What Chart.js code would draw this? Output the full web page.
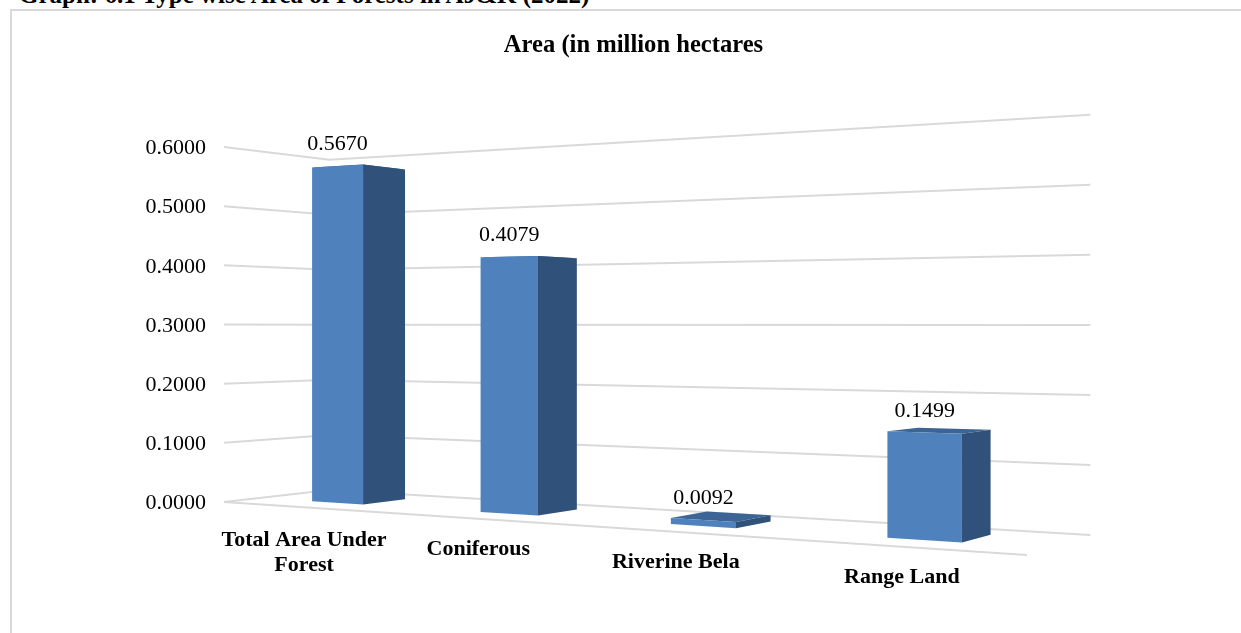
<!DOCTYPE html>
<html>
<head>
<meta charset="utf-8">
<style>
html,body{margin:0;padding:0;background:#fff;overflow:hidden;width:1241px;height:633px}
#frame{position:absolute;left:10px;top:9px;width:1240px;height:640px;border:2px solid #d9d9d9;box-sizing:border-box}
#caption{position:absolute;left:19px;top:-19px;font:bold 25px/28px "Liberation Serif",serif;color:#000;white-space:nowrap}
#wrap{position:absolute;left:0;top:0;width:1241px;height:633px}
</style>
</head>
<body>
<div id="frame"></div>
<div id="caption">Graph: 6.1 Type wise Area of Forests in AJ&amp;K (2022)</div>
<div id="wrap"><canvas id="c" width="1241" height="633"></canvas></div>
<script src="https://cdn.jsdelivr.net/npm/chart.js@4"></script>
<script>
const chartTitle = "Area (in million hectares";
const categories = [["Total Area Under","Forest"],["Coniferous"],["Riverine Bela"],["Range Land"]];
const areaValues = [0.5670,0.4079,0.0092,0.1499];
const tickStep = 0.1;
const axisMax = 0.6;

const serif = '"Liberation Serif", serif';
// Oblique projection of the chart's own plane: w = 1 + P*u + Q*z
const P = -0.0575, Q = 0.0745, BX = 130, AY = -18.66, BY = 24.5, Y_OFF = -1.5;
const Z_FRONT = 0.325, Z_BACK = 0.74, BAR_SHIFT = -0.008;

const perspective3d = {
  id: 'perspective3d',
  beforeDatasetsDraw(chart){
    const {ctx, scales:{x,y}} = chart;
    const catW = x.width / categories.length;
    const proj = (px, py, z) => {
      const u = (px - x.left) / catW;
      const w = 1 + P*u + Q*z;
      return [(px + BX*z)/w, (py + Y_OFF + AY*u + BY*z)/w];
    };
    const line = pts => { ctx.beginPath(); pts.forEach((p,i)=> i?ctx.lineTo(p[0],p[1]):ctx.moveTo(p[0],p[1])); ctx.stroke(); };
    const quad = (pts,col) => { ctx.fillStyle=col; ctx.beginPath(); pts.forEach((p,i)=> i?ctx.lineTo(p[0],p[1]):ctx.moveTo(p[0],p[1])); ctx.closePath(); ctx.fill(); };

    ctx.save();
    ctx.strokeStyle = '#d9d9d9'; ctx.lineWidth = 2;
    y.ticks.forEach(t => {
      const py = y.getPixelForValue(t.value);
      line([proj(x.left,py,0), proj(x.left,py,1), proj(x.right,py,1)]);
    });
    const py0 = y.getPixelForValue(0);
    line([proj(x.left,py0,0), proj(x.right,py0,0)]);

    const meta = chart.getDatasetMeta(0);
    meta.data.forEach((el,i) => {
      const shift = BAR_SHIFT*catW;
      const l = el.x - el.width/2 + shift, r = el.x + el.width/2 + shift;
      const t = el.y, b = el.base;
      const top = [proj(l,t,Z_FRONT),proj(r,t,Z_FRONT),proj(r,t,Z_BACK),proj(l,t,Z_BACK)];
      const side = [proj(r,t,Z_FRONT),proj(r,t,Z_BACK),proj(r,b,Z_BACK),proj(r,b,Z_FRONT)];
      const front = [proj(l,t,Z_FRONT),proj(r,t,Z_FRONT),proj(r,b,Z_FRONT),proj(l,b,Z_FRONT)];
      quad(top,'#3c6595');
      quad(side,'#30527a');
      quad(front,'#4f81bd');

      // value label above the front top edge
      ctx.fillStyle='#000'; ctx.font='22px '+serif; ctx.textAlign='center'; ctx.textBaseline='alphabetic';
      const cx=(front[0][0]+front[1][0])/2, cy=(front[0][1]+front[1][1])/2;
      ctx.fillText(areaValues[i].toFixed(4), cx, cy-15.5);

      // category label under the floor's front edge
      const f = proj(el.x, py0, 0);
      ctx.font='bold 22px '+serif;
      categories[i].forEach((s,k)=> ctx.fillText(s, f[0]+0.5, f[1]+(categories[i].length>1?38.7:36.3)+k*25));
    });
    ctx.restore();
  }
};

new Chart(document.getElementById('c'), {
  type:'bar',
  data:{
    labels:categories,
    datasets:[{label:'Area',data:areaValues,backgroundColor:'rgba(0,0,0,0)',borderWidth:0,barPercentage:0.315,categoryPercentage:1}]
  },
  plugins:[perspective3d],
  options:{
    responsive:false,animation:false,
    layout:{padding:{left:26,right:0,top:0,bottom:129.5}},
    plugins:{
      legend:{display:false},tooltip:{enabled:false},
      title:{display:true,text:chartTitle,color:'#000',font:{family:serif,size:24.6,weight:'bold',lineHeight:1.2},padding:{top:31,bottom:88}}
    },
    scales:{
      x:{display:false,offset:true,grid:{display:false}},
      y:{min:0,max:axisMax,position:'left',
         grid:{display:false},border:{display:false},
         ticks:{stepSize:tickStep,padding:10,color:'#000',font:{family:serif,size:22},callback:v=>Number(v).toFixed(4)},
         afterFit(s){s.width=198;}},
      y2:{position:'right',min:0,max:1,grid:{display:false},border:{display:false},
         ticks:{display:false},afterFit(s){s.width=450.2;}}
    }
  }
});
</script>
</body>
</html>
